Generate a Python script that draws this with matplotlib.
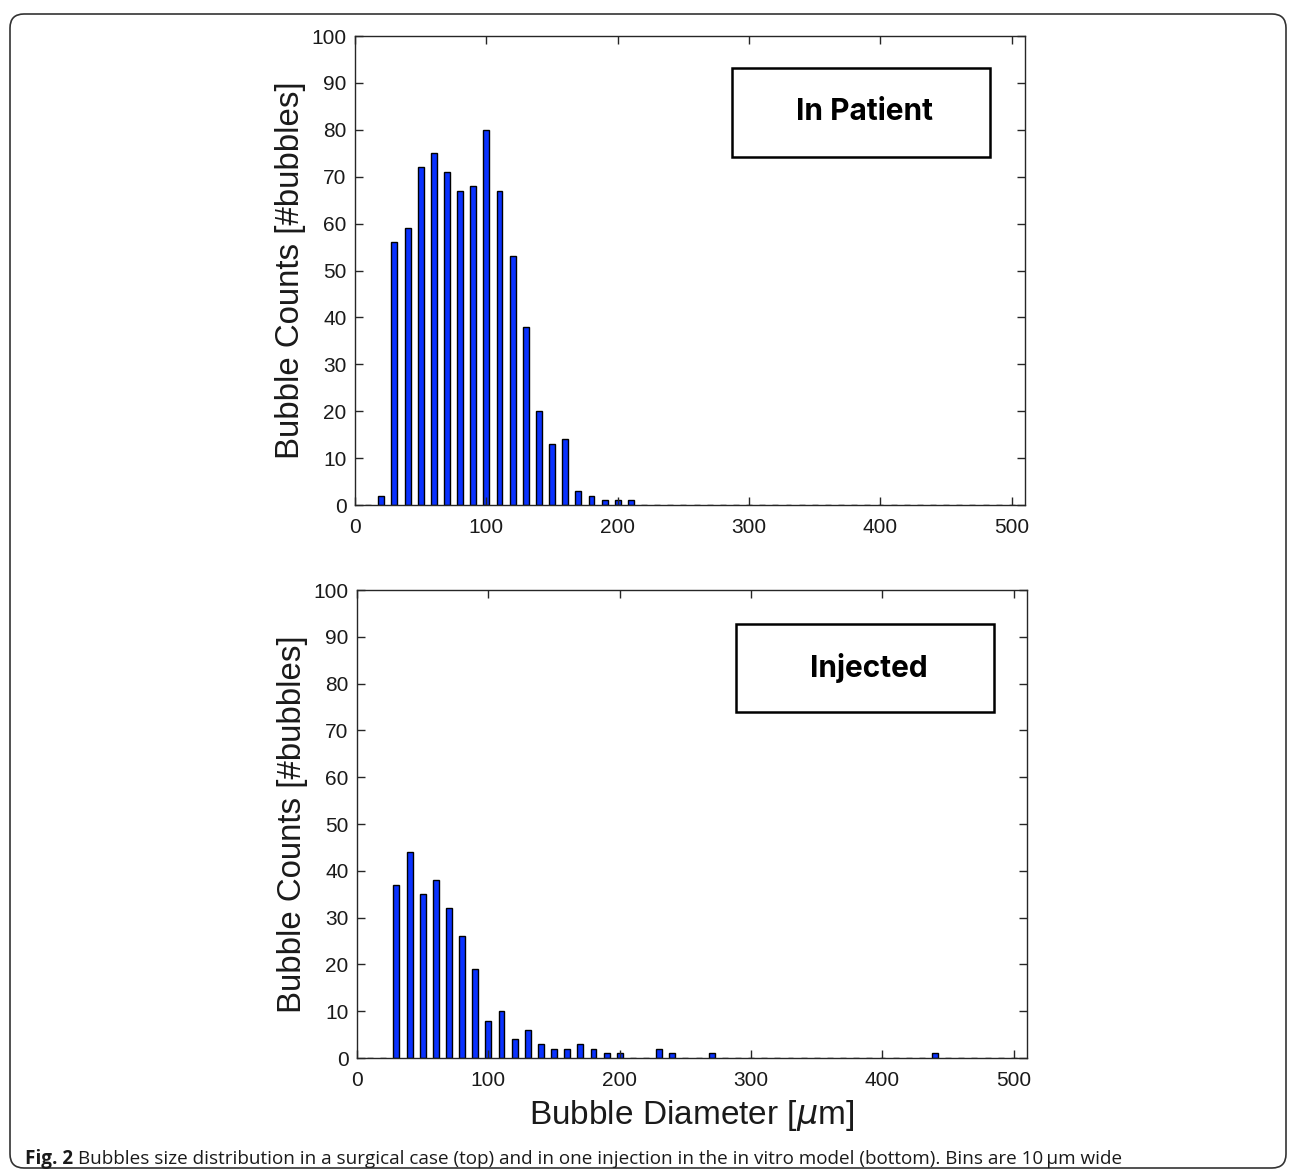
import numpy as np
import matplotlib
matplotlib.use("Agg")
import matplotlib.pyplot as plt
from matplotlib.patches import FancyBboxPatch
from matplotlib.transforms import IdentityTransform

# bin centres (10 um wide bins) and the non-empty counts
bins = np.arange(10, 510, 10)

patient_centres = [20, 30, 40, 50, 60, 70, 80, 90, 100, 110, 120, 130, 140, 150, 160, 170, 180, 190, 200, 210]
patient_counts = [2, 56, 59, 72, 75, 71, 67, 68, 80, 67, 53, 38, 20, 13, 14, 3, 2, 1, 1, 1]

injected_centres = [30, 40, 50, 60, 70, 80, 90, 100, 110, 120, 130, 140, 150, 160, 170, 180, 190, 200, 230, 240, 270, 440]
injected_counts = [37, 44, 35, 38, 32, 26, 19, 8, 10, 4, 6, 3, 2, 2, 3, 2, 1, 1, 2, 1, 1, 1]

labels = ["In Patient", "Injected"]
xticks = [0, 100, 200, 300, 400, 500]
yticks = list(range(0, 101, 10))


def full_counts(centres, counts):
    lookup = dict(zip(centres, counts))
    return [lookup.get(b, 0) for b in bins]


W, H = 1296, 1176
fig = plt.figure(figsize=(W / 100, H / 100), dpi=100)
plt.rcParams['font.family'] = ['Liberation Sans', 'DejaVu Sans']

axes_px = [(355, 36, 1025, 505), (357, 590, 1027, 1058)]
box_px = [(732, 68, 990, 157), (736, 624, 994, 712)]
data = [full_counts(patient_centres, patient_counts),
        full_counts(injected_centres, injected_counts)]
axcol = '#262626'

for i in range(2):
    l, t, r, b = axes_px[i]
    ax = fig.add_axes([l / W, 1 - b / H, (r - l) / W, (b - t) / H])
    ax.bar(bins, data[i], width=4.5, color='#0a32ff', edgecolor='black', linewidth=1.0)
    ax.set_xlim(0, 510)
    ax.set_ylim(0, 100)
    ax.set_xticks(xticks)
    ax.set_yticks(yticks)
    ax.tick_params(direction='in', top=True, right=True, length=6, width=1,
                   colors=axcol, labelcolor='#1a1a1a', labelsize=15)
    ax.tick_params(axis='x', pad=9)
    ax.tick_params(axis='y', pad=6)
    for s in ax.spines.values():
        s.set_color(axcol)
        s.set_linewidth(1)
    ax.set_ylabel("Bubble Counts [#bubbles]", fontsize=23.8, color='#1a1a1a', labelpad=4)
    if i == 1:
        ax.set_xlabel("Bubble Diameter [$\\mu$m]", fontsize=24, color='#1a1a1a', labelpad=6)

    bl, bt, br, bb = box_px[i]
    fig.patches.append(FancyBboxPatch((bl, H - bb), br - bl, bb - bt, boxstyle='square,pad=0',
                                      transform=IdentityTransform(), fill=False,
                                      edgecolor='black', linewidth=1.8))
    fig.text(((bl + br) / 2 + 4) / W, 1 - (bt + bb) / 2 / H, labels[i], ha='center', va='center',
             fontsize=21.5, fontweight='bold', family=['Inter', 'DejaVu Sans'])

# outer rounded frame
fig.patches.append(FancyBboxPatch((10, 8), W - 20, H - 22, boxstyle='round,pad=0,rounding_size=14',
                                  transform=IdentityTransform(), fill=False,
                                  edgecolor='#333333', linewidth=1.2))

# caption
cap_y = 1 - 1159 / H
t1 = fig.text(25 / W, cap_y, "Fig. 2", fontsize=13.6, fontweight='bold',
              family=['Open Sans', 'DejaVu Sans'], va='center', color='#1a1a1a')
fig.canvas.draw()
ext = t1.get_window_extent(fig.canvas.get_renderer())
fig.text((ext.x1 + 5) / W, cap_y,
         "Bubbles size distribution in a surgical case (top) and in one injection in the in vitro model (bottom). Bins are 10\u2009\u03bcm wide",
         fontsize=13.6, family=['Open Sans', 'DejaVu Sans'], va='center', color='#1a1a1a')

fig.savefig("out.png", dpi=100)
